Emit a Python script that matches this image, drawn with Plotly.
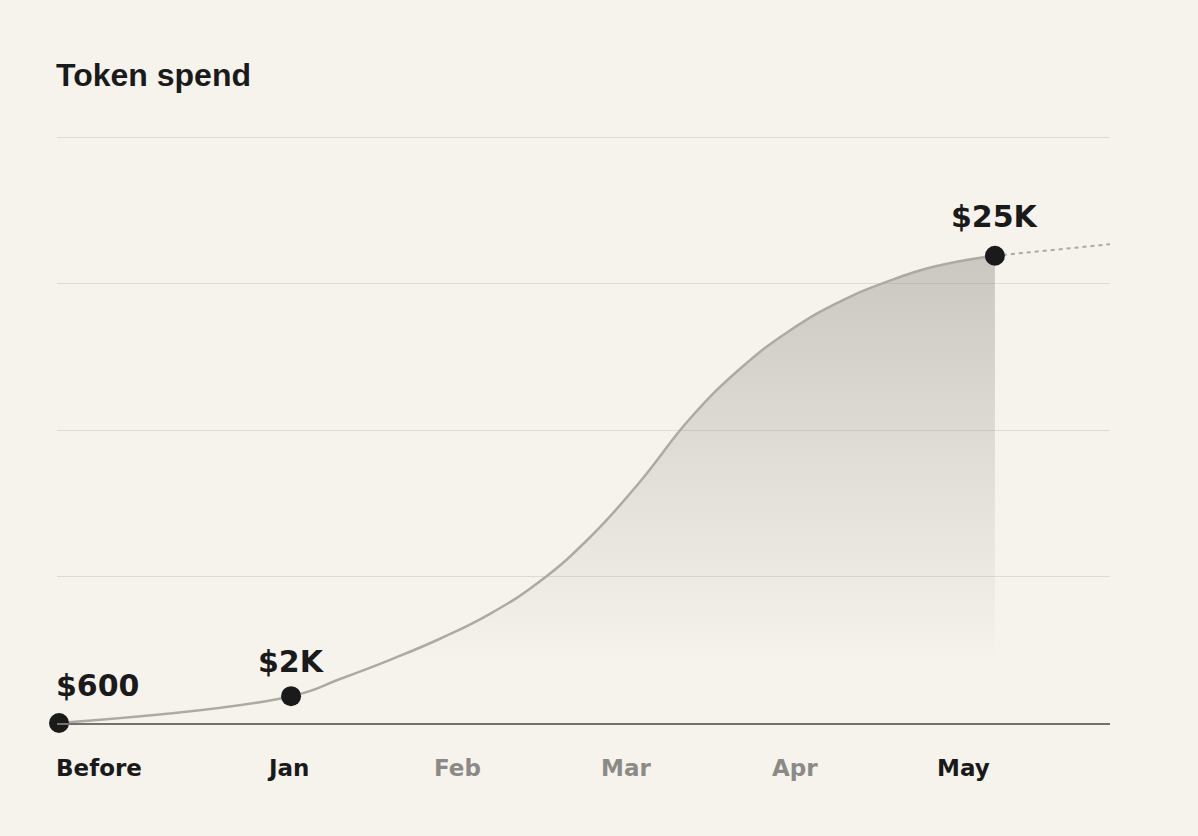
import plotly.graph_objects as go

# ---- data (x in month units: Jan=1 ... May=5; y in $K) ----
tick_labels = ["Before", "Jan", "Feb", "Mar", "Apr", "May"]
tick_pos = [None, 1, 2, 3, 4, 5]          # "Before" sits at the left edge
tick_strong = [True, True, False, False, False, True]

key_x = [-0.355, 1.018, 5.183]
key_y = [0.6, 2.0, 25.0]
key_text = ["$600", "$2K", "$25K"]

curve_x = [-0.355, 1.018, 1.308, 1.604, 1.899, 2.195, 2.491, 2.787, 3.083,
           3.379, 3.675, 3.970, 4.266, 4.562, 4.858, 5.183]
curve_y = [0.6, 2.0, 2.9, 3.9, 5.0, 6.3, 8.0, 10.3, 13.2,
           16.5, 19.1, 21.1, 22.6, 23.7, 24.5, 25.0]

proj_x = [5.183, 5.864]
proj_y = [25.0, 25.6]

x_range = [-0.367, 5.864]
y_range = [0.6, 31.514]
grid_step = 7.65

BG = "#F6F3EC"
DARK = "#1A1A1A"
MUTED = "#8C8A87"
LINE = "#ADAAA5"
LABEL_FONT = "DejaVu Sans"

fig = go.Figure()

fig.add_trace(go.Scatter(
    x=curve_x, y=curve_y, mode="lines",
    line=dict(color=LINE, width=2.5, shape="spline", smoothing=1.3),
    fill="tozeroy",
    fillgradient=dict(type="vertical", start=3.6, stop=25.0,
                      colorscale=[[0, "rgba(150,146,140,0)"],
                                  [1, "rgba(150,146,140,0.45)"]]),
    hoverinfo="skip", showlegend=False,
))

fig.add_trace(go.Scatter(
    x=proj_x, y=proj_y, mode="lines",
    line=dict(color=LINE, width=2, dash="4px,4px"),
    hoverinfo="skip", showlegend=False,
))

fig.add_trace(go.Scatter(
    x=key_x, y=key_y, mode="markers",
    marker=dict(color=DARK, size=20, line=dict(width=0)),
    cliponaxis=False, hoverinfo="skip", showlegend=False,
))

annotations = []
value_shift = [18, 15, 20]
for i, (xv, yv, t) in enumerate(zip(key_x, key_y, key_text)):
    first = i == 0
    annotations.append(dict(
        x=x_range[0] if first else xv, y=yv, xref="x", yref="y", text=t,
        xanchor="left" if first else "center", yanchor="bottom",
        xshift=-3 if first else 0, yshift=value_shift[i], showarrow=False,
        font=dict(family=LABEL_FONT, size=30, color=DARK, weight=700)))

for lab, pos, strong in zip(tick_labels, tick_pos, tick_strong):
    annotations.append(dict(
        x=x_range[0] if pos is None else pos, y=0, xref="x", yref="paper",
        text=lab, xanchor="left" if pos is None else "center", yanchor="top",
        xshift=-3 if pos is None else 0, yshift=-30, showarrow=False,
        font=dict(family=LABEL_FONT, size=23, color=DARK if strong else MUTED, weight=700)))

annotations.append(dict(
    x=0, y=1, xref="paper", yref="paper", text="Token spend",
    xanchor="left", yanchor="bottom", xshift=-3, yshift=36, showarrow=False,
    font=dict(family="Liberation Sans", size=32, color=DARK, weight=700)))

fig.update_layout(
    width=1198, height=836,
    margin=dict(l=57, r=88, t=131, b=113),
    paper_bgcolor=BG, plot_bgcolor=BG,
    annotations=annotations,
    xaxis=dict(range=x_range, showgrid=False, zeroline=False,
               showticklabels=False, ticks="",
               showline=True, linecolor="#74716D", linewidth=1.5),
    yaxis=dict(range=y_range, tick0=y_range[0], dtick=grid_step,
               showgrid=True, gridcolor="#DEDBD4", gridwidth=1,
               zeroline=False, showticklabels=False, ticks="", showline=False),
)

fig.write_html("out.html")
